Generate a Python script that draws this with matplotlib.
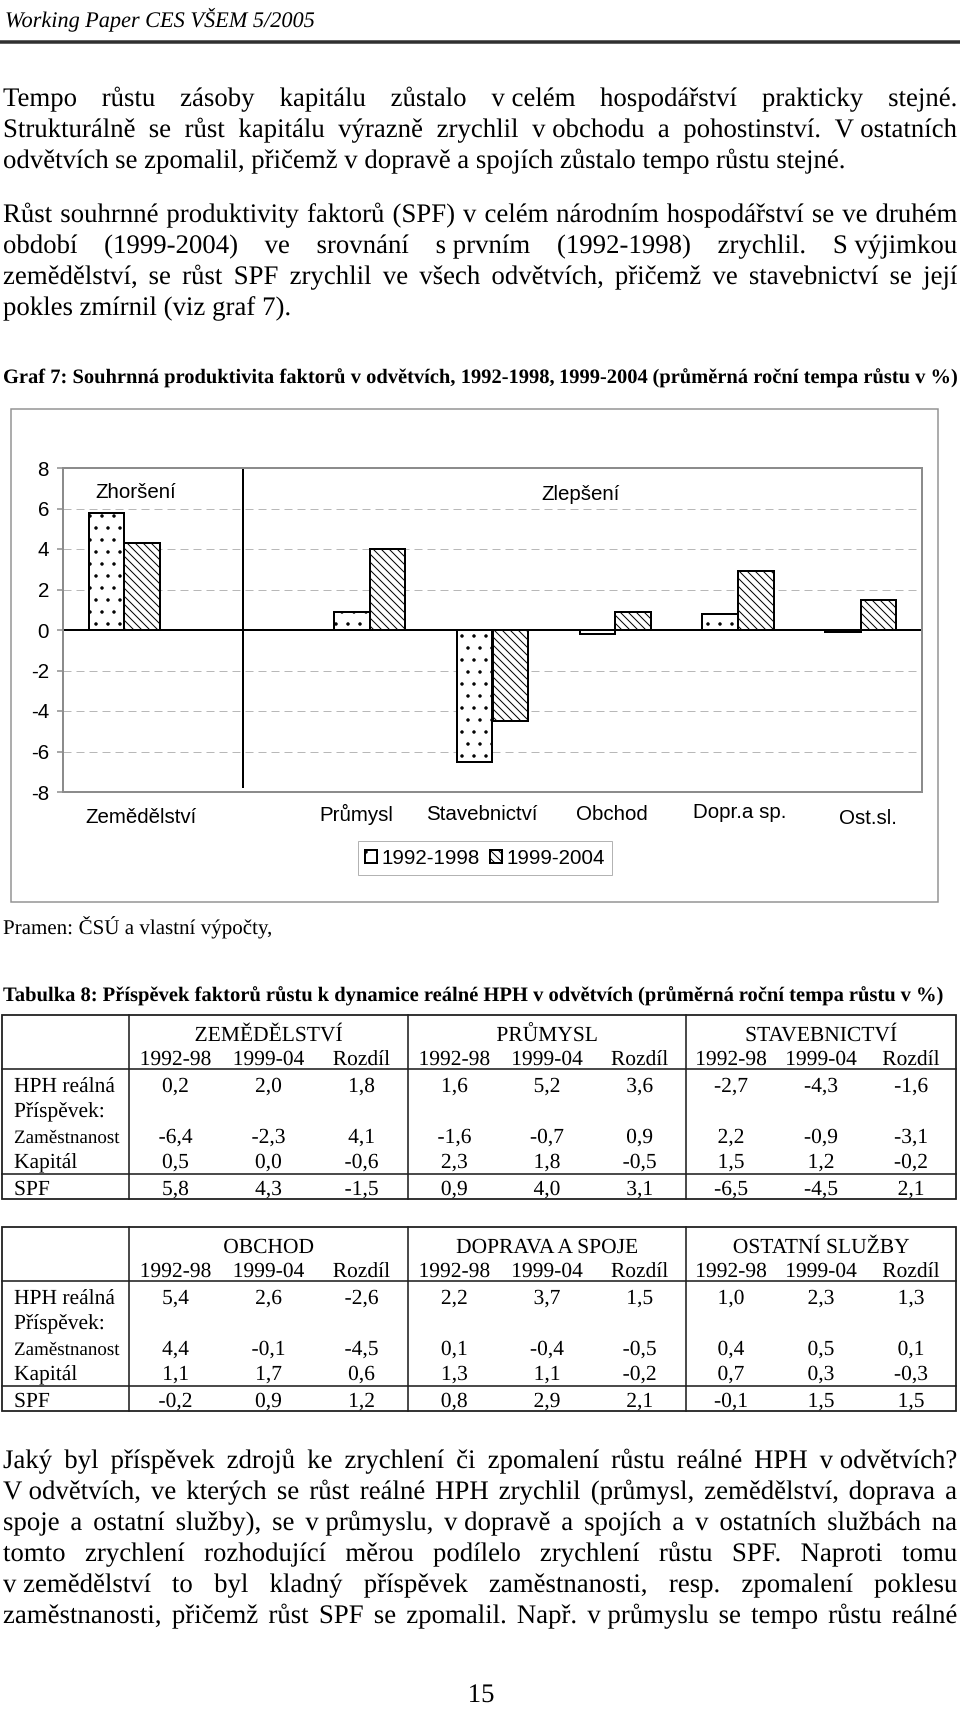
import matplotlib as mpl
mpl.use('Agg')
import matplotlib.pyplot as plt
import matplotlib.patheffects as pe
from matplotlib.patches import Rectangle
import numpy as np

# Graf 7 - souhrnna produktivita faktoru (SPF), prumerna rocni tempa rustu v %
sectors = ['Zemědělství', 'Průmysl', 'Stavebnictví', 'Obchod', 'Dopr.a sp.', 'Ost.sl.']
spf_9298 = [5.8, 0.9, -6.5, -0.2, 0.8, -0.1]
spf_9904 = [4.3, 4.0, -4.5, 0.9, 2.9, 1.5]
series_labels = ['1992-1998', '1999-2004']
y_ticks = [-8, -6, -4, -2, 0, 2, 4, 6, 8]

# Tabulka 8
row_labels = ['HPH reálná', 'Příspěvek:', 'Zaměstnanost', 'Kapitál', 'SPF']
col_labels = ['1992-98', '1999-04', 'Rozdíl']
tab1_groups = ['ZEMĚDĚLSTVÍ', 'PRŮMYSL', 'STAVEBNICTVÍ']
tab1_hph = [0.2, 2.0, 1.8, 1.6, 5.2, 3.6, -2.7, -4.3, -1.6]
tab1_zam = [-6.4, -2.3, 4.1, -1.6, -0.7, 0.9, 2.2, -0.9, -3.1]
tab1_kap = [0.5, 0.0, -0.6, 2.3, 1.8, -0.5, 1.5, 1.2, -0.2]
tab1_spf = [5.8, 4.3, -1.5, 0.9, 4.0, 3.1, -6.5, -4.5, 2.1]
tab2_groups = ['OBCHOD', 'DOPRAVA A SPOJE', 'OSTATNÍ SLUŽBY']
tab2_hph = [5.4, 2.6, -2.6, 2.2, 3.7, 1.5, 1.0, 2.3, 1.3]
tab2_zam = [4.4, -0.1, -4.5, 0.1, -0.4, -0.5, 0.4, 0.5, 0.1]
tab2_kap = [1.1, 1.7, 0.6, 1.3, 1.1, -0.2, 0.7, 0.3, -0.3]
tab2_spf = [-0.2, 0.9, 1.2, 0.8, 2.9, 2.1, -0.1, 1.5, 1.5]

NB = '\u00a0'  # bound one-letter prepositions
par1 = ['Tempo růstu zásoby kapitálu zůstalo v' + NB + 'celém hospodářství prakticky stejné.',
        'Strukturálně se růst kapitálu výrazně zrychlil v' + NB + 'obchodu a pohostinství. V' + NB + 'ostatních',
        'odvětvích se zpomalil, přičemž v dopravě a spojích zůstalo tempo růstu stejné.']
par2 = ['Růst souhrnné produktivity faktorů (SPF) v celém národním hospodářství se ve druhém',
        'období (1999-2004) ve srovnání s' + NB + 'prvním (1992-1998) zrychlil. S' + NB + 'výjimkou',
        'zemědělství, se růst SPF zrychlil ve všech odvětvích, přičemž ve stavebnictví se její',
        'pokles zmírnil (viz graf 7).']
par3 = ['Jaký byl příspěvek zdrojů ke zrychlení či zpomalení růstu reálné HPH v' + NB + 'odvětvích?',
        'V' + NB + 'odvětvích, ve kterých se růst reálné HPH zrychlil (průmysl, zemědělství, doprava a',
        'spoje a ostatní služby), se v' + NB + 'průmyslu, v' + NB + 'dopravě a spojích a v ostatních službách na',
        'tomto zrychlení rozhodující měrou podílelo zrychlení růstu SPF. Naproti tomu',
        'v' + NB + 'zemědělství to byl kladný příspěvek zaměstnanosti, resp. zpomalení poklesu',
        'zaměstnanosti, přičemž růst SPF se zpomalil. Např. v' + NB + 'průmyslu se tempo růstu reálné']
graf_title = 'Graf 7: Souhrnná produktivita faktorů v odvětvích, 1992-1998, 1999-2004 (průměrná roční tempa růstu v %)'
tab_title = 'Tabulka 8: Příspěvek faktorů růstu k dynamice reálné HPH v odvětvích (průměrná roční tempa růstu v %)'

plt.rcParams['axes.unicode_minus'] = False
plt.rcParams['hatch.linewidth'] = 1.0

W, H = 960, 1734
fig = plt.figure(figsize=(W / 72, H / 72), dpi=72)
page = fig.add_axes([0, 0, 1, 1])
page.set_xlim(0, W)
page.set_ylim(H, 0)
page.axis('off')
renderer = fig.canvas.get_renderer()

SERIF = ['Liberation Serif', 'DejaVu Serif']
SANS = 'Liberation Sans'
BODY = 26.8
# drawing text through its path keeps every word on the same baseline
PE = [pe.Normal()]


def text_width(s, **kw):
    t = page.text(0, 0, s, **kw)
    w = t.get_window_extent(renderer).width
    t.remove()
    return w


def fit_size(s, target, **kw):
    return 20 * target / text_width(s, fontsize=20, **kw)


def put_words(s, x0, y, target=None, **kw):
    words = [w.replace(NB, ' ') for w in s.split(' ')]
    ws = [text_width(w, **kw) for w in words]
    if target is None or len(words) == 1:
        gap = text_width('x x', **kw) - text_width('xx', **kw)
    else:
        gap = (target - sum(ws)) / (len(words) - 1)
    x = x0
    for w, wd in zip(words, ws):
        page.text(x, y, w, ha='left', va='baseline', path_effects=PE, **kw)
        x += wd + gap


def put_paragraph(lines, y0, step=31, last_full=False):
    kw = dict(family=SERIF, fontsize=BODY)
    for i, s in enumerate(lines):
        full = i < len(lines) - 1 or last_full
        put_words(s, 3, y0 + i * step, 954 if full else None, **kw)


# header
hdr = 'Working Paper CES VŠEM 5/2005'
hkw = dict(family=SERIF, style='italic')
put_words(hdr, 5, 27, **hkw, fontsize=fit_size(hdr, 310, **hkw))
page.plot([0, W], [42, 42], color='#303030', lw=3.5, solid_capstyle='butt')

put_paragraph(par1, 106)
put_paragraph(par2, 222)
put_paragraph(par3, 1468, last_full=True)

bkw = dict(family=SERIF, weight='bold')
put_words(graf_title, 3, 383, **bkw, fontsize=fit_size(graf_title, 954, **bkw))
put_words('Pramen: ČSÚ a vlastní výpočty,', 3, 934, family=SERIF, fontsize=21)
put_words(tab_title, 3, 1001, **bkw, fontsize=fit_size(tab_title, 940, **bkw))
page.text(481, 1702, '15', ha='center', va='baseline', family=SERIF, fontsize=BODY,
          path_effects=PE)


def fmt(v):
    return ('%.1f' % v).replace('.', ',')


def draw_table(top, groups, hph, zam, kap, spf):
    xs = [2, 129, 408, 686, 956]
    h = 184
    kw = dict(family=SERIF, fontsize=21.5, va='baseline', path_effects=PE)
    page.add_patch(Rectangle((xs[0], top), xs[-1] - xs[0], h, fill=False, ec='#202020', lw=1.8))
    for x in xs[1:-1]:
        page.plot([x, x], [top, top + h], color='#202020', lw=1.6)
    for dy in (54, 159):
        page.plot([xs[0], xs[-1]], [top + dy, top + dy], color='#202020', lw=1.6)
    # baselines below the table top
    row_dy = [77, 102, 128, 153, 180]
    rows = [hph, None, zam, kap, spf]
    for g, name in enumerate(groups):
        gx0, gx1 = xs[g + 1], xs[g + 2]
        cw = (gx1 - gx0) / 3
        page.text((gx0 + gx1) / 2, top + 26, name, ha='center', **kw)
        for j, c in enumerate(col_labels):
            cx = gx0 + cw * (j + 0.5)
            page.text(cx, top + 50, c, ha='center', **kw)
            for vals, dy in zip(rows, row_dy):
                if vals is not None:
                    page.text(cx, top + dy, fmt(vals[3 * g + j]), ha='center', **kw)
    for lab, dy in zip(row_labels, row_dy):
        size = 19 if lab == 'Zaměstnanost' else 21.5
        page.text(14, top + dy, lab, ha='left', va='baseline', family=SERIF,
                  fontsize=size, path_effects=PE)


draw_table(1015, tab1_groups, tab1_hph, tab1_zam, tab1_kap, tab1_spf)
draw_table(1227, tab2_groups, tab2_hph, tab2_zam, tab2_kap, tab2_spf)

# chart frame
page.add_patch(Rectangle((11, 409), 927, 493, fill=False, ec='#929292', lw=1.5))

# chart
ax = fig.add_axes([63 / W, 1 - 792 / H, (922 - 63) / W, (792 - 468) / H])
idx = np.arange(len(sectors))
slots = idx + (idx > 0)          # empty slot between the two groups
gap_slot = 1
bw = 0.29
ax.bar(slots - bw / 2, spf_9298, bw, facecolor='white', edgecolor='black', hatch='.',
       lw=2, label=series_labels[0], zorder=3)
ax.bar(slots + bw / 2, spf_9904, bw, facecolor='white', edgecolor='black', hatch='\\\\\\',
       lw=2, label=series_labels[1], zorder=3)

for t in y_ticks:
    if t != 0:
        ax.axhline(t, color='#b8b8b8', lw=1, ls=(0, (8, 5)), zorder=0)
ax.axhline(0, color='black', lw=2, zorder=2)
ax.plot([gap_slot - 0.03, gap_slot - 0.03], [8, -7.75], color='black', lw=2, zorder=2)

ax.set_xlim(-0.5, 6.5)
ax.set_ylim(-8, 8)
ax.set_yticks(y_ticks)
ax.set_xticks([])
for sp in ax.spines.values():
    sp.set_color('#8c8c8c')
    sp.set_linewidth(2)
ax.tick_params(axis='y', length=6, width=1.5, color='#8c8c8c', labelsize=20.5, pad=8)
for lab in ax.get_yticklabels():
    lab.set_family(SANS)

ax.text(0.09, 6.77, 'Zhoršení', ha='center', va='center', family=SANS, fontsize=20.5)
ax.text(3.72, 6.67, 'Zlepšení', ha='center', va='center', family=SANS, fontsize=20.5)

label_dx = [0.136, -0.112, -0.085, -0.026, 0.017, 0.06]
label_y = [-9.25, -9.1, -9.1, -9.1, -9.0, -9.3]
for s, x, dx, y in zip(sectors, slots, label_dx, label_y):
    ax.text(x + dx, y, s, ha='center', va='center', family=SANS, fontsize=20.5, clip_on=False)

leg = fig.legend(loc='center', bbox_to_anchor=(485 / W, 1 - 858 / H), ncol=2,
                 frameon=True, fancybox=False, edgecolor='#a0a0a0',
                 prop={'family': SANS, 'size': 20.5}, handlelength=0.6, handleheight=0.6,
                 handletextpad=0.2, columnspacing=0.5, borderpad=0.35, borderaxespad=0)
leg.get_frame().set_linewidth(1)

fig.savefig('out.png', dpi=72, facecolor='white')
